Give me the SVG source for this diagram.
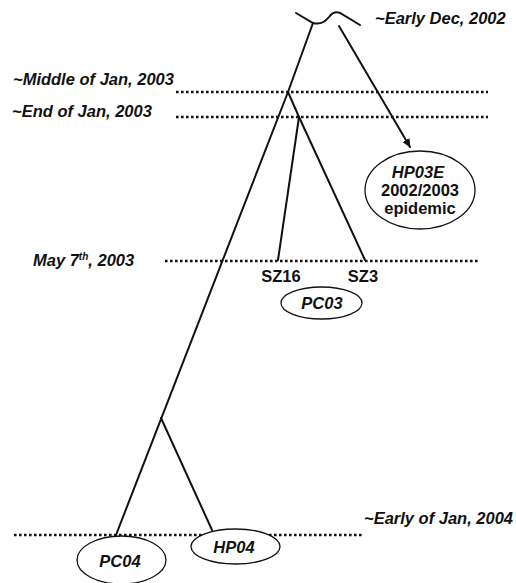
<svg xmlns="http://www.w3.org/2000/svg" width="516" height="583" viewBox="0 0 516 583">
<style>
  text { font-family: "Liberation Sans", Arial, sans-serif; font-weight: bold; font-size: 16.5px; fill: #111; }
  .it { font-style: italic; }
  .mid { text-anchor: middle; }
  .dots { stroke: #111; stroke-width: 2.6; stroke-dasharray: 2.6 2.4; fill: none; }
  .br { stroke: #111; stroke-width: 2; fill: none; stroke-linecap: round; }
  .ell { stroke: #111; stroke-width: 1.3; fill: #fff; }
</style>
<defs>
  <marker id="arr" markerWidth="10" markerHeight="10" refX="8" refY="5" orient="auto" markerUnits="userSpaceOnUse">
    <path d="M0,1 L9,5 L0,9 Z" fill="#111"/>
  </marker>
</defs>
<rect width="516" height="583" fill="#fff"/>

<g id="timelines">
  <line class="dots" x1="176" y1="92" x2="488" y2="92"/>
  <line class="dots" x1="176" y1="117" x2="488" y2="117"/>
  <line class="dots" x1="165" y1="261" x2="480" y2="261"/>
  <line class="dots" x1="14" y1="535" x2="362" y2="535"/>
</g>

<g id="date-labels">
  <text id="t-dec2002" class="it" x="375" y="24">~Early Dec, 2002</text>
  <text id="t-midjan" class="it" x="13" y="85">~Middle of Jan, 2003</text>
  <text id="t-endjan" class="it" x="12" y="117">~End of Jan, 2003</text>
  <text id="t-may" class="it" x="33" y="266">May 7<tspan font-size="10" dy="-6">th</tspan><tspan dy="6">, 2003</tspan></text>
  <text id="t-jan2004" class="it" x="364" y="524">~Early of Jan, 2004</text>
</g>

<g id="connectors">
  <path class="br" d="M296,13 L313,23 C320,25 325,22 329,17 C332,13 335,11 340,13 L360,25"/>
  <line class="br" x1="313" y1="23" x2="288" y2="92"/>
  <line class="br" x1="288" y1="92" x2="116" y2="535"/>
  <line class="br" x1="288" y1="92" x2="299" y2="117"/>
  <line class="br" x1="299" y1="117" x2="278" y2="260"/>
  <line class="br" x1="299" y1="117" x2="365" y2="260"/>
  <line class="br" x1="161" y1="418" x2="212" y2="530"/>
  <line class="br" x1="339" y1="26" x2="410" y2="147" marker-end="url(#arr)"/>
</g>

<g id="node-hp03e">
  <ellipse class="ell" cx="420" cy="190" rx="55" ry="39"/>
  <text class="it mid" x="418" y="178">HP03E</text>
  <text class="mid" x="420" y="196">2002/2003</text>
  <text class="mid" x="420" y="214">epidemic</text>
</g>

<g id="node-sz16"><text class="mid" x="281" y="282">SZ16</text></g>
<g id="node-sz3"><text class="mid" x="363" y="282">SZ3</text></g>

<g id="node-pc03">
  <ellipse class="ell" cx="321.5" cy="303" rx="40.5" ry="16"/>
  <text class="it mid" x="322" y="309">PC03</text>
</g>

<g id="node-pc04">
  <ellipse class="ell" cx="121.5" cy="560" rx="44.5" ry="24"/>
  <text class="it mid" x="120" y="567">PC04</text>
</g>

<g id="node-hp04">
  <ellipse class="ell" cx="235.5" cy="546.5" rx="44.5" ry="17.5"/>
  <text class="it mid" x="234" y="553">HP04</text>
</g>
</svg>
